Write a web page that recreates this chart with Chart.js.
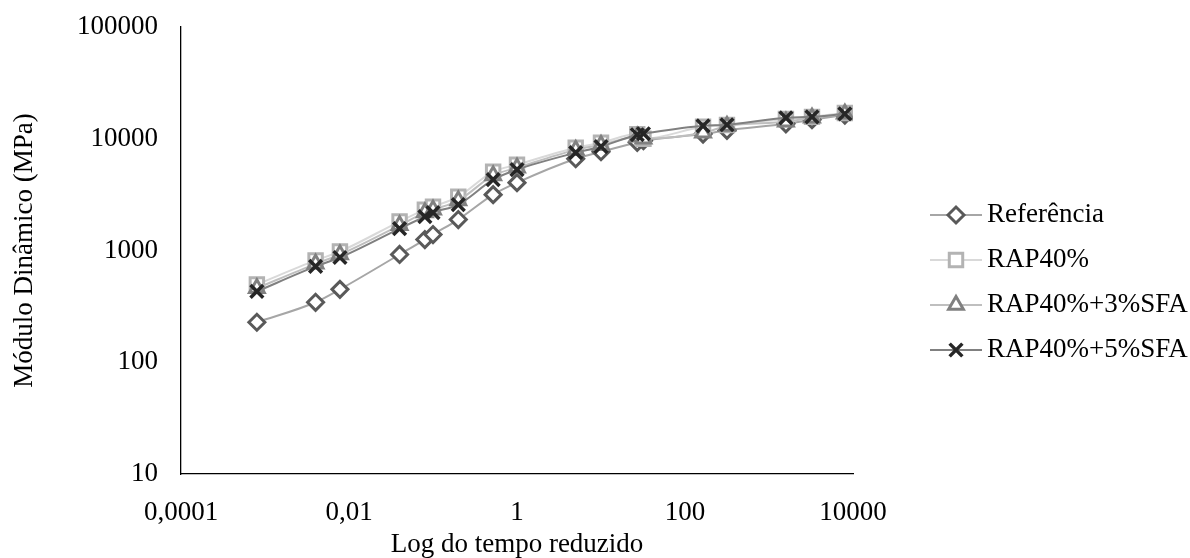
<!DOCTYPE html>
<html>
<head>
<meta charset="utf-8">
<script src="https://cdn.jsdelivr.net/npm/chart.js@4/dist/chart.umd.min.js"></script>
<style>
  html, body { margin: 0; padding: 0; background: #fff; }
  #wrap { width: 1190px; height: 558px; }
</style>
</head>
<body>
<div id="wrap"><canvas id="myChart" width="1190" height="558"></canvas></div>
<script>
// reduced time (x) shared by all mixtures
var tempo = [0.0008, 0.004, 0.0078, 0.04, 0.08, 0.1, 0.2, 0.52, 1, 5, 10, 27, 32, 164, 316, 1590, 3250, 8000]

// dynamic modulus (MPa) per mixture
var referencia = [228, 344, 449, 921, 1253, 1390, 1892, 3162, 4047, 6630, 7650, 9300, 9600, 11000, 11900, 13600, 14800, 16300]
var rap40 = [497, 815, 980, 1815, 2323, 2470, 3034, 5070, 5860, 8310, 9200, 11000, 10000, 12800, 13300, 15000, 15700, 17000]
var rap40sfa3 = [460, 760, 920, 1680, 2185, 2320, 2800, 4700, 5500, 7950, 8800, 10400, 10000, 11300, 13000, 14200, 15400, 16700]
var rap40sfa5 = [430, 720, 866, 1572, 2012, 2185, 2574, 4305, 5290, 7500, 8490, 10860, 11090, 13060, 13340, 15400, 15700, 16700]

var seriesNames = ["Referência", "RAP40%", "RAP40%+3%SFA", "RAP40%+5%SFA"]
var xTicks = [0.0001, 0.01, 1, 100, 10000]
var yTicks = [10, 100, 1000, 10000, 100000]

var FONT = "'Liberation Serif', 'Times New Roman', serif"
var FSIZE = 27

function toPoints(ys) {
    return tempo.map(function (t, i) { return { x: t, y: ys[i] } })
}

function fmtNum(v) {
    // brazilian decimal comma
    if (v >= 1) return String(Math.round(v))
    return String(v.toFixed(Math.round(-Math.log10(v)))).replace(".", ",")
}

// legend drawn Excel-like: line with the marker on it
var sideLegend = {
    id: "sideLegend",
    afterDraw: function (chart) {
        var ctx = chart.ctx
        chart.data.datasets.forEach(function (ds, i) {
            var y = 215 + i * 45
            ctx.save()
            ctx.strokeStyle = ds.borderColor
            ctx.lineWidth = ds.borderWidth
            ctx.beginPath()
            ctx.moveTo(930, y)
            ctx.lineTo(982, y)
            ctx.stroke()
            ctx.fillStyle = ds.pointBackgroundColor
            ctx.strokeStyle = ds.pointBorderColor
            ctx.lineWidth = ds.pointBorderWidth
            Chart.helpers.drawPoint(ctx, {
                pointStyle: ds.pointStyle,
                radius: ds.pointRadius,
                rotation: 0,
                borderWidth: ds.pointBorderWidth
            }, 956, y)
            ctx.fillStyle = "#000"
            ctx.font = FSIZE + "px " + FONT
            ctx.textBaseline = "middle"
            ctx.textAlign = "left"
            ctx.fillText(seriesNames[i], 987, y)
            ctx.restore()
        })
    }
}

function makeSet(i, ys, line, marker, style, radius, bw, order) {
    return {
        label: seriesNames[i],
        data: toPoints(ys),
        showLine: true,
        borderColor: line,
        borderWidth: 2,
        cubicInterpolationMode: "monotone",
        pointStyle: style,
        pointRadius: radius,
        pointHoverRadius: radius,
        pointBorderColor: marker,
        pointBackgroundColor: "#ffffff",
        pointBorderWidth: bw,
        order: order
    }
}

window.addEventListener("load", function () {
    new Chart("myChart", {
        type: "scatter",
        data: {
            datasets: [
                makeSet(0, referencia, "#a6a6a6", "#595959", "rectRot", 8, 3, 4),
                makeSet(1, rap40, "#d9d9d9", "#b3b3b3", "rect", 9.5, 3, 3),
                makeSet(2, rap40sfa3, "#bfbfbf", "#808080", "triangle", 8.5, 3, 2),
                makeSet(3, rap40sfa5, "#808080", "#262626", "crossRot", 9, 3.5, 1)
            ]
        },
        options: {
            responsive: false,
            animation: false,
            layout: { padding: { left: 0, right: 337, top: 27, bottom: 0 } },
            plugins: {
                legend: { display: false },
                tooltip: { enabled: false }
            },
            scales: {
                x: {
                    type: "logarithmic",
                    min: 0.0001,
                    max: 10000,
                    afterBuildTicks: function (axis) {
                        axis.ticks = xTicks.map(function (v) { return { value: v } })
                    },
                    afterFit: function (axis) {
                        axis.height = 84
                        axis.paddingLeft = 0
                        axis.paddingRight = 0
                    },
                    grid: { display: false, drawTicks: false },
                    border: { display: true, color: "#000", width: 1.3 },
                    ticks: {
                        padding: 23,
                        color: "#000",
                        font: { family: FONT, size: FSIZE },
                        maxRotation: 0,
                        autoSkip: false,
                        callback: function (v) { return fmtNum(v) }
                    },
                    title: {
                        display: true,
                        text: "Log do tempo reduzido",
                        color: "#000",
                        font: { family: FONT, size: FSIZE, lineHeight: 1.0 },
                        padding: { top: 0, bottom: 0 }
                    }
                },
                y: {
                    type: "logarithmic",
                    min: 10,
                    max: 100000,
                    afterBuildTicks: function (axis) {
                        axis.ticks = yTicks.map(function (v) { return { value: v } })
                    },
                    afterFit: function (axis) {
                        axis.width = 181
                        axis.paddingTop = 0
                        axis.paddingBottom = 0
                    },
                    grid: { display: false, drawTicks: false },
                    border: { display: true, color: "#000", width: 1.3 },
                    ticks: {
                        padding: 23,
                        color: "#000",
                        font: { family: FONT, size: FSIZE },
                        autoSkip: false,
                        callback: function (v) { return fmtNum(v) }
                    },
                    title: {
                        display: true,
                        text: "Módulo Dinâmico (MPa)",
                        color: "#000",
                        font: { family: FONT, size: FSIZE, lineHeight: 1.0 },
                        padding: { top: 11, bottom: 0 }
                    }
                }
            }
        },
        plugins: [sideLegend]
    })
})
</script>
</body>
</html>
